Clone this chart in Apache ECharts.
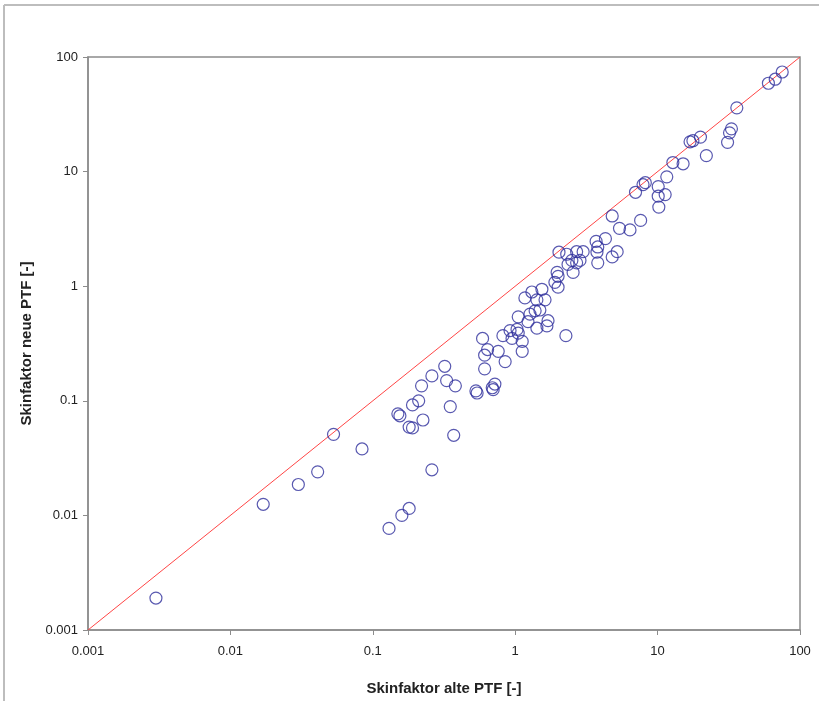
<!DOCTYPE html>
<html>
<head>
<meta charset="utf-8">
<script src="https://cdn.jsdelivr.net/npm/echarts@6/dist/echarts.min.js"></script>
<style>html,body{margin:0;padding:0;background:#fff}#c{width:819px;height:701px}</style>
</head>
<body>
<div id="c"></div>
<script>
// Skinfaktor alte PTF [-] (x) and Skinfaktor neue PTF [-] (y)
const alteX = [75, 67, 60, 36, 33, 32, 31, 22, 20, 17.7, 16.9, 15.1, 12.8, 11.6, 10.1, 8.2, 7.9, 11.3, 10.1, 7.0, 10.2,
  4.8, 7.6, 5.4, 6.4, 4.3, 3.7, 3.8, 3.75, 5.2, 4.8, 3.8, 3.0, 2.7, 2.3, 2.03, 2.5, 2.85, 2.35, 2.7, 2.55, 1.97, 2.0, 1.9, 2.0,
  1.54, 1.31, 1.17, 1.42, 1.62, 1.49, 1.38, 1.27, 1.05, 1.7, 1.23, 1.42, 1.67, 1.03, 0.92, 1.05, 0.82, 0.95, 1.12, 0.59, 2.27,
  0.64, 0.76, 1.12, 0.61, 0.61, 0.85, 0.32, 0.26, 0.22, 0.33, 0.38, 0.53, 0.54, 0.69, 0.72, 0.70, 0.35, 0.37,
  0.21, 0.19, 0.15, 0.155, 0.225, 0.18, 0.19, 0.053, 0.084, 0.041, 0.030, 0.26, 0.017, 0.003, 0.18, 0.16, 0.13];
const neueY = [74, 64, 59, 36, 23.6, 21.8, 18, 13.8, 20, 18.6, 18.2, 11.7, 12, 9.0, 7.4, 8.0, 7.7, 6.3, 6.1, 6.6, 4.9,
  4.1, 3.75, 3.2, 3.1, 2.6, 2.46, 2.2, 1.98, 2.0, 1.8, 1.6, 2.0, 2.0, 1.9, 1.98, 1.68, 1.68, 1.55, 1.6, 1.32, 1.32, 1.22, 1.08, 0.98,
  0.94, 0.89, 0.79, 0.76, 0.76, 0.62, 0.61, 0.57, 0.54, 0.50, 0.49, 0.43, 0.45, 0.42, 0.41, 0.39, 0.37, 0.35, 0.33, 0.35, 0.37,
  0.28, 0.27, 0.27, 0.25, 0.19, 0.22, 0.20, 0.165, 0.135, 0.15, 0.135, 0.122, 0.117, 0.13, 0.14, 0.125, 0.089, 0.05,
  0.10, 0.092, 0.077, 0.074, 0.068, 0.059, 0.058, 0.051, 0.038, 0.024, 0.0186, 0.025, 0.0125, 0.0019, 0.0115, 0.010, 0.0077];
const refLine = [0.001, 100];
const tickLabels = ['0.001', '0.01', '0.1', '1', '10', '100'];

const points = alteX.map((x, i) => [x, neueY[i]]);
const tickText = v => {
  const e = Math.round(Math.log10(v));
  return tickLabels[e + 3];
};
const chart = echarts.init(document.getElementById('c'), null, {renderer: 'canvas'});
const labelFont = {fontFamily: 'Liberation Sans, Arial, sans-serif', fontSize: 13, color: '#222'};
const nameFont = {fontFamily: 'Liberation Sans, Arial, sans-serif', fontSize: 15, fontWeight: 'bold', color: '#222'};
chart.setOption({
  animation: false,
  backgroundColor: '#fff',
  graphic: [
    {type: 'line', shape: {x1: 4, y1: 5, x2: 819, y2: 5}, style: {stroke: '#bdbdbd', lineWidth: 2}, silent: true},
    {type: 'line', shape: {x1: 4, y1: 5, x2: 4, y2: 701}, style: {stroke: '#bdbdbd', lineWidth: 2}, silent: true}
  ],
  grid: {left: 88, right: 19, top: 57, bottom: 69, show: true, borderColor: '#8c8c8c', borderWidth: 1.5, backgroundColor: 'transparent'},
  xAxis: {
    type: 'log', logBase: 10, min: 0.001, max: 100,
    name: 'Skinfaktor alte PTF [-]', nameLocation: 'middle', nameGap: 51,
    nameTextStyle: nameFont,
    axisLine: {show: true, lineStyle: {color: '#8c8c8c', width: 1.5}},
    axisTick: {show: true, inside: false, length: 5, lineStyle: {color: '#8c8c8c'}},
    axisLabel: Object.assign({margin: 15, formatter: tickText}, labelFont),
    splitLine: {show: false}, minorTick: {show: false}
  },
  yAxis: {
    type: 'log', logBase: 10, min: 0.001, max: 100,
    name: 'Skinfaktor neue PTF [-]', nameLocation: 'middle', nameGap: 52,
    nameTextStyle: nameFont,
    axisLine: {show: true, lineStyle: {color: '#8c8c8c', width: 1.5}},
    axisTick: {show: true, inside: false, length: 5, lineStyle: {color: '#8c8c8c'}},
    axisLabel: Object.assign({margin: 10, formatter: tickText}, labelFont),
    splitLine: {show: false}, minorTick: {show: false}
  },
  series: [
    {
      type: 'line', data: refLine.map(v => [v, v]), symbol: 'none',
      lineStyle: {color: '#ff4545', width: 1}, silent: true, z: 1
    },
    {
      type: 'scatter', data: points, symbol: 'circle', symbolSize: 12,
      itemStyle: {color: 'transparent', borderColor: '#2f2f9c', borderWidth: 1.2}, z: 2
    }
  ]
});
</script>
</body>
</html>
